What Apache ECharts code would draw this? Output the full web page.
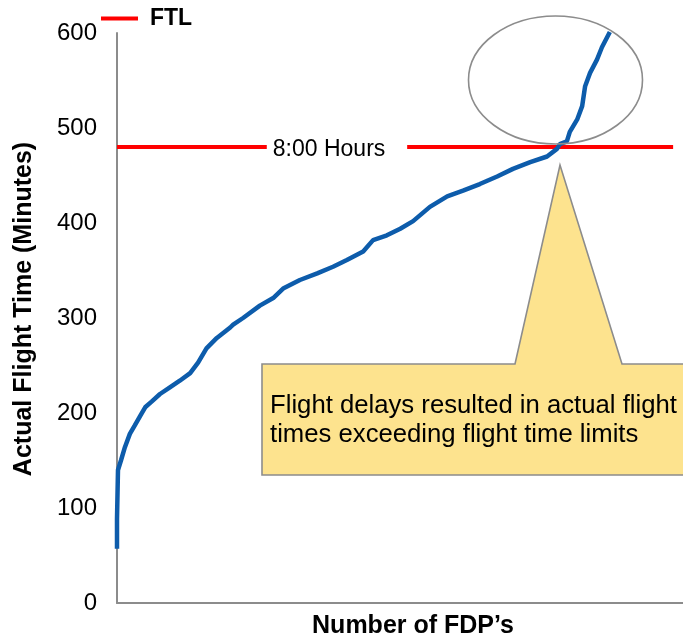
<!DOCTYPE html>
<html>
<head>
<meta charset="utf-8">
<script src="https://cdn.jsdelivr.net/npm/echarts@6/dist/echarts.min.js"></script>
<style>
  html, body { margin: 0; padding: 0; background: #ffffff; }
  #chart { width: 683px; height: 644px; }
</style>
</head>
<body>
<div id="chart"></div>
<script>
// ---- data ----
const fdpRank = [0, 0, 1, 2, 8, 16, 26, 36, 47, 57, 70, 87, 107, 127, 148, 164, 181, 202, 229, 235, 255, 289, 316, 336, 370, 405, 437, 465, 498, 518, 546, 573, 599, 633, 668, 700, 734, 769, 801, 836, 870, 890, 896, 910, 916, 931, 941, 947, 957, 971, 981, 997];
const flightMinutes = [57, 88, 90, 140, 150, 164, 178, 187, 197, 206, 212, 220, 227, 234, 242, 253, 268, 279, 290, 293, 300, 313, 321, 331, 340, 347, 354, 361, 370, 382, 387, 394, 402, 417, 428, 434, 441, 449, 457, 464, 470, 478, 483, 486, 496, 509, 523, 544, 558, 572, 585, 601];
const ftlValue = 480;
const ftlRanks = [0, 303, 445, 587, 1125];      // 445 = gap for the label
const ftlLabel = '8:00 Hours';
const ftlLabelRank = 429;
const yTicks = [0, 100, 200, 300, 400, 500, 600];
const xMax = 1145;
const calloutText = ['Flight delays resulted in actual flight', 'times exceeding flight time limits'];

const curve = fdpRank.map((r, i) => [r, flightMinutes[i]]);
const ftlData = ftlRanks.map((r, i) => [r, i === 2 ? null : ftlValue]);

const FONT = '"Liberation Sans", Arial, sans-serif';
const chart = echarts.init(document.getElementById('chart'), null, { renderer: 'canvas' });

chart.setOption({
  animation: false,
  backgroundColor: '#ffffff',
  grid: { left: 117, right: 0, top: 33, bottom: 36, containLabel: false },
  legend: {
    data: ['FTL'],
    left: 101, top: 7, padding: 0,
    icon: 'rect', itemWidth: 37, itemHeight: 4,
    textStyle: { fontFamily: FONT, fontSize: 23, fontWeight: 'bold', color: '#000', padding: [0, 0, 0, 7] }
  },
  xAxis: {
    type: 'value', min: 0, max: xMax,
    name: 'Number of FDP\u2019s', nameLocation: 'middle', nameGap: 11,
    nameTextStyle: { fontFamily: FONT, fontSize: 25, fontWeight: 'bold', color: '#000', padding: [0, 0, 0, 26] },
    axisLine: { show: true, lineStyle: { color: '#8c8c8c', width: 2 } },
    axisTick: { show: false }, axisLabel: { show: false }, splitLine: { show: false }
  },
  yAxis: {
    type: 'value', min: yTicks[0], max: yTicks[yTicks.length - 1], interval: 100,
    name: 'Actual Flight Time (Minutes)', nameLocation: 'middle', nameGap: 80, nameRotate: 90,
    nameTextStyle: { fontFamily: FONT, fontSize: 25, fontWeight: 'bold', color: '#000', padding: [0, 0, 0, 18] },
    axisLine: { show: true, lineStyle: { color: '#8c8c8c', width: 2 } },
    axisTick: { show: false },
    axisLabel: { fontFamily: FONT, fontSize: 24, color: '#000', margin: 20 },
    splitLine: { show: false }
  },
  series: [
    {
      name: 'FTL', type: 'line', data: ftlData, symbol: 'none', connectNulls: false,
      lineStyle: { color: '#ff0000', width: 4 }, itemStyle: { color: '#ff0000' }, z: 2, silent: true
    },
    {
      name: 'label', type: 'scatter', data: [[ftlLabelRank, ftlValue]], symbolSize: 0, silent: true,
      itemStyle: { color: '#000', opacity: 1 },
      label: { show: true, position: 'inside', formatter: ftlLabel, offset: [0, 3],
        fontFamily: FONT, fontSize: 23, color: '#000', textBorderWidth: 0 }
    },
    {
      name: 'Actual', type: 'line', data: curve, symbol: 'none',
      lineStyle: { color: '#0d5cab', width: 4.5 }, z: 3, silent: true
    }
  ],
  graphic: [
    { type: 'ellipse', shape: { cx: 555.5, cy: 80, rx: 87, ry: 64 },
      style: { fill: 'none', stroke: '#8c8c8c', lineWidth: 1.6 }, z: 10 },
    { type: 'polygon', shape: { points: [[262, 364], [515, 364], [560, 165], [622, 364], [686, 364], [686, 475], [262, 475]] },
      style: { fill: '#fde38e', stroke: '#8c8c8c', lineWidth: 1.6 }, z: 10 },
    { type: 'text', left: 270, top: 391, z: 11,
      style: { text: calloutText.join('\n'), fontFamily: FONT, fontSize: 25.7, lineHeight: 29, fill: '#000' } }
  ]
});
</script>
</body>
</html>
